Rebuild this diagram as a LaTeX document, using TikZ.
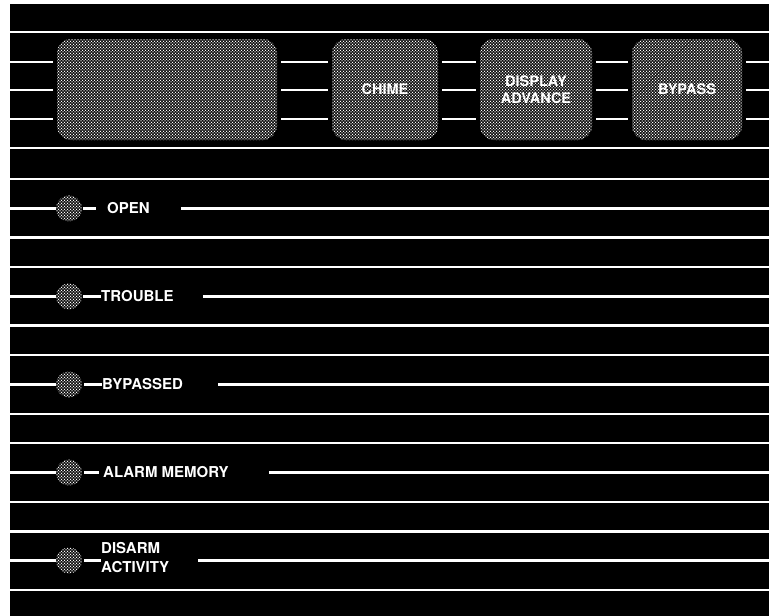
\documentclass[tikz,border=0pt]{standalone}
\usepackage{fontspec}
\setmainfont{TeX Gyre Heros}
\usetikzlibrary{positioning,patterns}

% white dot screen of the panel keys
\pgfdeclarepatternformonly{stipple}{\pgfqpoint{-1pt}{-1pt}}{\pgfqpoint{4pt}{4pt}}{\pgfqpoint{3pt}{3pt}}{
  \pgfpathcircle{\pgfqpoint{0pt}{0pt}}{0.75pt}
  \pgfpathcircle{\pgfqpoint{1.5pt}{1.5pt}}{0.75pt}
  \pgfusepath{fill}}

\begin{document}
\begin{tikzpicture}[x=1pt,y=-1pt]
\tikzstyle{every node}=[font=\bfseries\fontsize{15}{19}\selectfont, text=white]
\tikzstyle{wire}=[draw=white, line width=2.6pt]
\tikzstyle{screen}=[fill=black, postaction={pattern=stipple, pattern color=white}]
\tikzstyle{key}=[screen, rounded corners=14pt, minimum height=101pt, inner sep=0pt, align=center, font=\bfseries\fontsize{14.5}{19}\selectfont]
\tikzstyle{lamp}=[screen, circle, minimum size=26pt, inner sep=0pt]
\tikzstyle{legend}=[anchor=west, inner sep=0pt, align=left]

\useasboundingbox (0,0) rectangle (769,616);
\fill[white] (0,0) rectangle (769,616);
\fill[black] (10,4) rectangle (769,616);
\coordinate (lft) at (10,0);
\coordinate (rgt) at (769,0);

% panel rules
\foreach \y in {32,148}
  \draw[wire] (10,\y) -- (769,\y);
\foreach \k in {0,2,3,5,6,8,9,11,12,14}
  \draw[wire] (10,179+29.35*\k) -- (769,179+29.35*\k);

% keys
\node[key, minimum width=220pt] (display) at (167,89.5) {};
\node[key, minimum width=106pt] (chime) at (385,89.5) {CHIME};
\node[key, minimum width=112pt] (advance) at (536,89.5) {DISPLAY\\[-2pt]ADVANCE};
\node[key, minimum width=110pt] (bypass) at (687,89.5) {BYPASS};

\foreach \dy in {27.5,-0.5,-29.5} {
  \draw[wire, shorten >=4pt] ([yshift=\dy pt]display.west -| lft) -- ([yshift=\dy pt]display.west);
  \draw[wire, shorten <=4pt, shorten >=4pt] ([yshift=\dy pt]display.east) -- ([yshift=\dy pt]chime.west);
  \draw[wire, shorten <=4pt, shorten >=4pt] ([yshift=\dy pt]chime.east) -- ([yshift=\dy pt]advance.west);
  \draw[wire, shorten <=4pt, shorten >=4pt] ([yshift=\dy pt]advance.east) -- ([yshift=\dy pt]bypass.west);
  \draw[wire, shorten <=4pt] ([yshift=\dy pt]bypass.east) -- ([yshift=\dy pt]bypass.east -| rgt);
}

% indicators
\node[lamp] (open) at (69,208.4) {};
\node[legend] (opentxt) at (107,208.4) {OPEN};
\draw[wire, shorten <=1pt] (open) -- (96,208.4);
\draw[wire] (lft |- open) -- (open);
\draw[wire, shorten <=31pt] (open -| opentxt.east) -- (open -| rgt);

\node[lamp] (trouble) at (69,296.4) {};
\node[legend] (troubletxt) at (101,296.4) {TROUBLE};
\draw[wire, shorten <=1pt] (trouble) -- (troubletxt);
\draw[wire] (lft |- trouble) -- (trouble);
\draw[wire, shorten <=29pt] (trouble -| troubletxt.east) -- (trouble -| rgt);

\node[lamp] (bypassed) at (69,384.5) {};
\node[legend] (bypassedtxt) at (102,384.5) {BYPASSED};
\draw[wire, shorten <=2pt] (bypassed) -- (bypassedtxt);
\draw[wire] (lft |- bypassed) -- (bypassed);
\draw[wire, shorten <=35pt] (bypassed -| bypassedtxt.east) -- (bypassed -| rgt);

\node[lamp] (memory) at (69,472.5) {};
\node[legend] (memorytxt) at (103,472.5) {ALARM MEMORY};
\draw[wire, shorten <=2pt, shorten >=4pt] (memory) -- (memorytxt);
\draw[wire] (lft |- memory) -- (memory);
\draw[wire, shorten <=40pt] (memory -| memorytxt.east) -- (memory -| rgt);

\node[lamp] (activity) at (69,560.5) {};
\node[legend] (activitytxt) at (101,557.5) {DISARM\\ACTIVITY};
\draw[wire, shorten <=2pt] (activity) -- (activity -| activitytxt.west);
\draw[wire] (lft |- activity) -- (activity);
\draw[wire, shorten <=29pt] (activity -| activitytxt.east) -- (activity -| rgt);
\end{tikzpicture}
\end{document}
